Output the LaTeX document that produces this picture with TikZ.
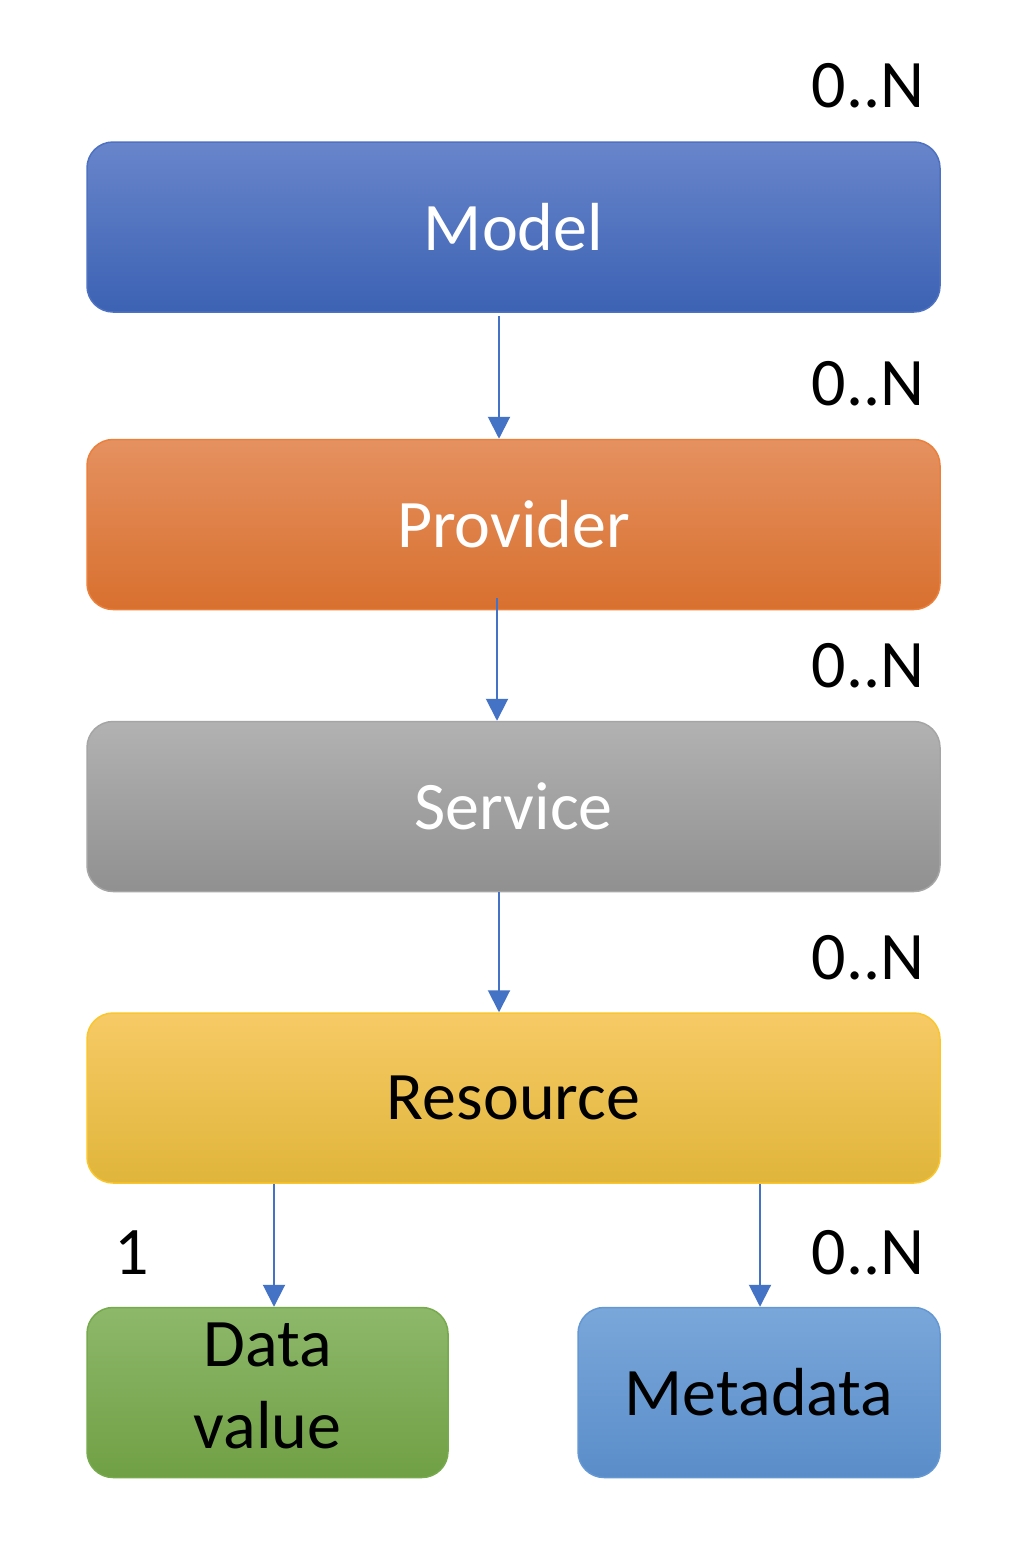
\documentclass[tikz,border=0pt]{standalone}
\usepackage{fontspec}
\setmainfont{Carlito}
\usetikzlibrary{arrows.meta,calc}
\definecolor{arrowc}{HTML}{4472C4}
\definecolor{modT}{RGB}{104,133,203}\definecolor{modB}{RGB}{60,98,179}\definecolor{modD}{RGB}{78,114,193}
\definecolor{proT}{RGB}{229,145,96}\definecolor{proB}{RGB}{216,112,47}\definecolor{proD}{RGB}{234,128,60}
\definecolor{serT}{RGB}{178,178,178}\definecolor{serB}{RGB}{144,144,144}\definecolor{serD}{RGB}{165,165,165}
\definecolor{resT}{RGB}{247,202,102}\definecolor{resM}{RGB}{245,198,68}\definecolor{resB}{RGB}{224,181,58}\definecolor{resD}{RGB}{250,198,45}
\definecolor{datT}{RGB}{141,184,106}\definecolor{datB}{RGB}{112,160,69}\definecolor{datD}{RGB}{118,170,76}
\definecolor{metT}{RGB}{122,167,218}\definecolor{metB}{RGB}{90,141,201}\definecolor{metD}{RGB}{100,152,211}
\tikzset{
  box/.style={rounded corners=26pt, line width=1.5pt, minimum height=170pt, inner sep=0pt,
     font=\fontsize{68}{82}\selectfont, align=center},
  wide/.style={box, minimum width=853pt},
  narrow/.style={box, minimum width=361pt},
  lbl/.style={anchor=base, font=\fontsize{68}{82}\selectfont, inner sep=0pt},
  arr/.style={draw=arrowc, line width=2pt, -{Triangle[width=22pt,length=22pt]}}
}
\begin{document}
\begin{tikzpicture}[x=1pt,y=-1pt]
\useasboundingbox[fill=white] (0,0) rectangle (1034,1550);
\node[wide, top color=modT, bottom color=modB, draw=modD, text=white] (model) at (513.5,227) {Model};
\node[wide, top color=proT, bottom color=proB, draw=proD, text=white] (provider) at (513.5,524.5) {Provider};
\node[wide, top color=serT, bottom color=serB, draw=serD, text=white] (service) at (513.5,806.5) {Service};
\node[wide, top color=resT, middle color=resM, bottom color=resB, draw=resD, text=black] (resource) at (513.5,1098) {Resource};
\node[narrow, top color=datT, bottom color=datB, draw=datD,
  label={[font=\fontsize{68}{82}\selectfont, align=center, inner sep=0pt, yshift=7pt]center:Data\\value}] (data) at (267.5,1392.5) {};
\node[narrow, minimum width=362pt, top color=metT, bottom color=metB, draw=metD, text=black] (meta) at (759,1392.5) {Metadata};

\node[lbl] (l1) at (868,107) {0..N};
\node[lbl] (l2) at (868,405) {0..N};
\node[lbl] (l3) at (868,687) {0..N};
\node[lbl] (l4) at (868,979) {0..N};
\node[lbl] (l5) at (868,1274) {0..N};
\node[lbl] (l6) at (132,1274) {1};

\draw[arr] ([xshift=-14.5pt,yshift=-3pt]model.south) -- ([xshift=-14.5pt]provider.north);
\draw[arr] ([xshift=-16.5pt,yshift=12pt]provider.south) -- ([xshift=-16.5pt]service.north);
\draw[arr] ([xshift=-14.5pt]service.south) -- ([xshift=-14.5pt]resource.north);
\coordinate (d1) at ([xshift=6.5pt]data.north);
\coordinate (m1) at ([xshift=1pt]meta.north);
\draw[arr] (d1 |- resource.south) -- (d1);
\draw[arr] (m1 |- resource.south) -- (m1);
\end{tikzpicture}
\end{document}
